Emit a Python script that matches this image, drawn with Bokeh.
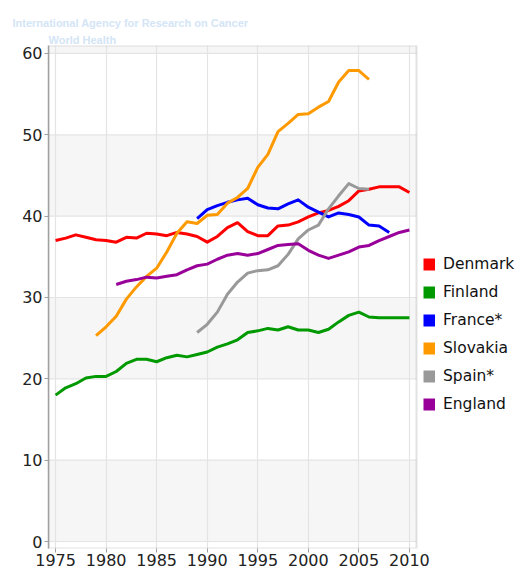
from bokeh.plotting import figure
from bokeh.models import (FixedTicker, Legend, LegendItem, Title, BoxAnnotation, Range1d)
from bokeh.embed import file_html
from bokeh.resources import INLINE

# ---- data ----
denmark_years = list(range(1975, 2011))
denmark = [37.0, 37.3, 37.7, 37.4, 37.1, 37.0, 36.8, 37.4, 37.3, 37.9, 37.8, 37.6,
           38.0, 37.8, 37.5, 36.8, 37.5, 38.6, 39.2, 38.1, 37.6, 37.6, 38.8, 38.9,
           39.3, 39.9, 40.4, 40.7, 41.2, 41.9, 43.1, 43.3, 43.6, 43.6, 43.6, 42.9]

finland_years = list(range(1975, 2011))
finland = [18.0, 18.9, 19.4, 20.1, 20.3, 20.3, 20.9, 21.9, 22.4, 22.4, 22.1, 22.6,
           22.9, 22.7, 23.0, 23.3, 23.9, 24.3, 24.8, 25.7, 25.9, 26.2, 26.0, 26.4,
           26.0, 26.0, 25.7, 26.1, 27.0, 27.8, 28.2, 27.6, 27.5, 27.5, 27.5, 27.5]

france_years = list(range(1989, 2009))
france = [39.7, 40.8, 41.3, 41.7, 42.0, 42.2, 41.4, 41.0, 40.9, 41.5, 42.0, 41.1,
          40.5, 39.9, 40.4, 40.2, 39.9, 38.9, 38.8, 38.0]

slovakia_years = list(range(1979, 2007))
slovakia = [25.3, 26.4, 27.7, 29.8, 31.3, 32.6, 33.6, 35.6, 37.9, 39.3, 39.1, 40.1,
            40.2, 41.6, 42.3, 43.4, 46.0, 47.6, 50.4, 51.4, 52.5, 52.6, 53.4, 54.1,
            56.5, 57.9, 57.9, 56.8]

spain_years = list(range(1989, 2007))
spain = [25.7, 26.7, 28.2, 30.4, 31.9, 33.0, 33.3, 33.4, 33.9, 35.3, 37.2, 38.3,
         38.9, 40.9, 42.5, 44.0, 43.4, 43.3]

england_years = list(range(1981, 2011))
england = [31.6, 32.0, 32.2, 32.5, 32.4, 32.6, 32.8, 33.4, 33.9, 34.1, 34.7, 35.2,
           35.4, 35.2, 35.4, 35.9, 36.4, 36.5, 36.6, 35.8, 35.2, 34.8, 35.2, 35.6,
           36.2, 36.4, 37.0, 37.5, 38.0, 38.3]

series_names = ["Denmark", "Finland", "France*", "Slovakia", "Spain*", "England"]
series_colors = ["#ff0000", "#009900", "#0000ff", "#ff9900", "#999999", "#990099"]
series_x = [denmark_years, finland_years, france_years, slovakia_years, spain_years, england_years]
series_y = [denmark, finland, france, slovakia, spain, england]

x_ticks = [1975, 1980, 1985, 1990, 1995, 2000, 2005, 2010]
y_ticks = [0, 10, 20, 30, 40, 50, 60]

# ---- geometry ----
FONT = "DejaVu Sans"
W, H = 517, 572
BL, BR, BT, BB = 48, 1, 45, 24
FW = W - BL - BR                 # frame spans the plot area plus the legend zone
PLOT_W = 368                     # width of the visible plot box in px
X0, X1 = 1974.3, 2010.7          # data extent of the plot box
XEND = X0 + (X1 - X0) * FW / PLOT_W
Y0, Y1 = -0.86, 60.98

p = figure(output_backend="svg", toolbar_location=None, width=W, height=H,
           min_border_left=BL, min_border_right=BR, min_border_top=BT, min_border_bottom=BB,
           x_range=Range1d(X0, XEND), y_range=Range1d(Y0, Y1))
p.background_fill_color = "white"
p.border_fill_color = "white"
p.outline_line_color = None

# alternating bands inside the plot box
for lo, hi in [(0, 10), (20, 30), (40, 50), (60, None)]:
    p.add_layout(BoxAnnotation(bottom=lo, top=hi, right=X1, fill_color="#f6f6f6",
                               fill_alpha=1, line_color=None, level="image"))

for ax in (p.xaxis[0], p.yaxis[0]):
    ax.axis_line_color = "#a0a0a0"
    ax.axis_line_width = 1.5
    ax.major_tick_line_color = "#a0a0a0"
    ax.major_tick_in = 0
    ax.major_tick_out = 4
    ax.minor_tick_line_color = None
    ax.major_label_text_font = FONT
    ax.major_label_text_font_size = "16px"
    ax.major_label_text_color = "#222222"
    ax.major_label_standoff = 2
p.xaxis.axis_line_color = None
p.xaxis.major_label_standoff = 1
p.xaxis.ticker = FixedTicker(ticks=x_ticks)
p.yaxis.ticker = FixedTicker(ticks=y_ticks)
p.xgrid.ticker = FixedTicker(ticks=x_ticks)
p.xgrid.grid_line_color = "#e4e4e4"
p.xgrid.grid_line_width = 1.2
p.ygrid.grid_line_color = None

# horizontal grid lines limited to the plot box
p.segment(x0=[X0] * len(y_ticks), x1=[X1] * len(y_ticks), y0=y_ticks, y1=y_ticks,
          line_color="#e4e4e4", line_width=1.2, level="underlay")

# plot box border
p.add_layout(BoxAnnotation(right=X1, fill_alpha=0, fill_color=None,
                           line_color="#a0a0a0", line_width=2, level="underlay"))

items = []
for name, col, xs, ys in zip(series_names, series_colors, series_x, series_y):
    p.line(xs, ys, line_color=col, line_width=3, line_join="round")
    # single-point line: draws nothing on the plot, gives a square legend swatch
    swatch = p.line(xs[:1], ys[:1], line_color=col, line_width=12)
    items.append(LegendItem(label=name, renderers=[swatch]))

legend = Legend(items=items, location=(375, 134), glyph_width=12, glyph_height=20,
                label_height=20, spacing=8, label_standoff=8, padding=0, margin=0,
                border_line_color=None, background_fill_alpha=0,
                label_text_font=FONT, label_text_font_size="15.5px",
                label_text_color="#111111")
p.add_layout(legend, "center")

# watermark (faint header texts above the plot)
wm = "#d3e5f6"
p.add_layout(Title(text="World Health", align="left", offset=0, standoff=0,
                   text_font="Liberation Sans", text_font_style="bold",
                   text_font_size="11px", text_color=wm), "above")
p.add_layout(Title(text="International Agency for Research on Cancer", align="left",
                   offset=-36, standoff=6,
                   text_font="Liberation Sans", text_font_style="bold",
                   text_font_size="11px", text_color=wm), "above")

open("out.html", "w").write(file_html(p, INLINE))
